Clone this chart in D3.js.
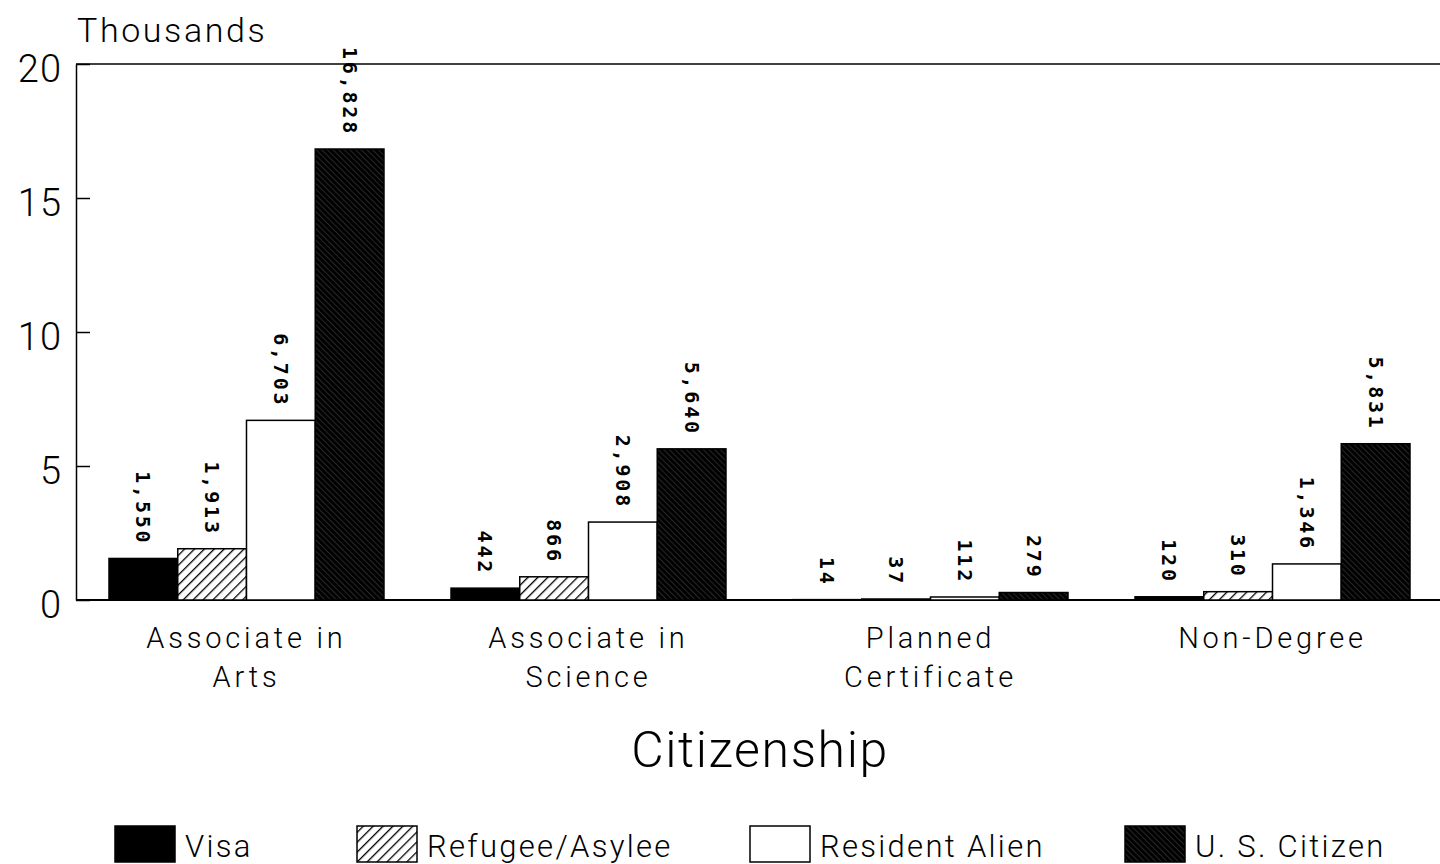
<!DOCTYPE html>
<html>
<head>
<meta charset="utf-8">
<script src="https://cdn.jsdelivr.net/npm/d3@7"></script>
<style>
  body { margin:0; background:#fff; }
  svg { display:block; }
  text { font-family: Roboto, "Liberation Sans", Arial, sans-serif; font-weight:300; fill:#000; }
</style>
</head>
<body>
<svg></svg>
<script>
// data
var categories = ["Associate in Arts","Associate in Science","Planned Certificate","Non-Degree"]
var catLines = [["Associate in","Arts"],["Associate in","Science"],["Planned","Certificate"],["Non-Degree"]]
var seriesNames = ["Visa","Refugee/Asylee","Resident Alien","U. S. Citizen"]
var visa = [1550, 442, 14, 120]
var refugee = [1913, 866, 37, 310]
var resident = [6703, 2908, 112, 1346]
var citizen = [16828, 5640, 279, 5831]
var yTicks = [0,5,10,15,20]

var screen = {width:1440,height:864}
var plot = {left:76,top:64,bottom:600,right:1443}
var legendX = [115,357,750,1125]

var svg = d3.select("svg")
    .attr("width",screen.width)
    .attr("height",screen.height)

// patterns
var defs = svg.append("defs")
var p1 = defs.append("pattern").attr("id","hatch").attr("patternUnits","userSpaceOnUse")
    .attr("width",7).attr("height",7).attr("patternTransform","rotate(45)")
p1.append("rect").attr("width",7).attr("height",7).attr("fill","#fff")
p1.append("line").attr("x1",0).attr("y1",0).attr("x2",0).attr("y2",7)
    .attr("stroke","#000").attr("stroke-width",2.6)

var p2 = defs.append("pattern").attr("id","dense").attr("patternUnits","userSpaceOnUse")
    .attr("width",4).attr("height",4).attr("patternTransform","rotate(-45)")
p2.append("rect").attr("width",4).attr("height",4).attr("fill","#000")
p2.append("line").attr("x1",0).attr("y1",0).attr("x2",0).attr("y2",4)
    .attr("stroke","#fff").attr("stroke-width",0.7).attr("stroke-opacity",0.45)

var fills = ["#000","url(#hatch)","#fff","url(#dense)"]

var table = categories.map(function(c,i){
    return {cat:c, values:[visa[i],refugee[i],resident[i],citizen[i]]}
})

var xScale = d3.scaleBand()
    .domain(categories)
    .range([plot.left,plot.right])
    .paddingInner(0.196)
    .paddingOuter(0.0965)
var xInner = d3.scaleBand()
    .domain(seriesNames)
    .range([0,xScale.bandwidth()])
var yScale = d3.scaleLinear()
    .domain([0,20])
    .range([plot.bottom,plot.top])

// frame lines
svg.append("line").attr("x1",plot.left).attr("x2",screen.width)
    .attr("y1",plot.top).attr("y2",plot.top).attr("stroke","#000").attr("stroke-width",1.5)
svg.append("line").attr("x1",plot.left).attr("x2",screen.width)
    .attr("y1",plot.bottom).attr("y2",plot.bottom).attr("stroke","#000").attr("stroke-width",2)

var yAxis = d3.axisLeft(yScale)
    .tickValues(yTicks)
    .tickFormat(d3.format("d"))
    .tickSizeInner(-14)
    .tickSizeOuter(0)
    .tickPadding(14)

var ya = svg.append("g")
    .attr("transform","translate("+plot.left+",0)")
    .call(yAxis)
ya.select(".domain").attr("stroke-width",1.5)
ya.selectAll(".tick line").attr("stroke-width",1.5)
ya.selectAll(".tick text")
    .attr("font-family","Roboto, sans-serif")
    .attr("font-size",38)
    .attr("letter-spacing",1)
    .attr("dy","0.45em")
    .style("font-weight",300)

svg.append("text").attr("x",77).attr("y",42)
    .attr("font-size",34).attr("letter-spacing",2.6)
    .text("Thousands")

var groups = svg.selectAll(".grp")
    .data(table)
    .enter()
    .append("g")
    .attr("class","grp")
    .attr("transform",function(d){ return "translate("+xScale(d.cat)+",0)"})

groups.selectAll("rect")
    .data(function(d){ return d.values })
    .enter()
    .append("rect")
    .attr("x",function(v,i){ return xInner(seriesNames[i])})
    .attr("width",xInner.bandwidth())
    .attr("y",function(v){ return yScale(v/1000)})
    .attr("height",function(v){ return plot.bottom - yScale(v/1000)})
    .attr("fill",function(v,i){ return fills[i]})
    .attr("stroke","#000")
    .attr("stroke-width",1.5)

groups.selectAll(".val")
    .data(function(d){ return d.values })
    .enter()
    .append("text")
    .attr("class","val")
    .attr("transform",function(v,i){
        var x = xInner(seriesNames[i]) + xInner.bandwidth()/2
        var y = yScale(v/1000) - 13
        return "translate("+x+","+y+") rotate(90)"
    })
    .attr("text-anchor","end")
    .attr("dy","0.35em")
    .style("font-family","DejaVu Sans Mono")
    .style("font-weight","bold")
    .attr("font-size",20)
    .attr("letter-spacing",2.8)
    .text(function(v){ return d3.format(",")(v)})

// category labels
svg.selectAll(".cat")
    .data(table)
    .enter()
    .append("text")
    .attr("class","cat")
    .attr("text-anchor","middle")
    .attr("font-size",29)
    .attr("letter-spacing",3.8)
    .attr("x",function(d){ return xScale(d.cat)+xScale.bandwidth()/2 })
    .attr("y",648)
    .each(function(d,i){
        var t = d3.select(this)
        catLines[i].forEach(function(s,k){
            t.append("tspan")
             .attr("x",xScale(d.cat)+xScale.bandwidth()/2)
             .attr("dy",k==0?0:39)
             .text(s)
        })
    })

svg.append("text").attr("x",760).attr("y",767)
    .attr("text-anchor","middle")
    .attr("font-size",50).attr("letter-spacing",1.6)
    .text("Citizenship")

// legend
var leg = svg.selectAll(".leg")
    .data(seriesNames)
    .enter()
    .append("g")
    .attr("class","leg")
    .attr("transform",function(d,i){ return "translate("+legendX[i]+",0)"})
leg.append("rect")
    .attr("x",0).attr("y",826).attr("width",60).attr("height",36)
    .attr("fill",function(d,i){ return fills[i]})
    .attr("stroke","#000").attr("stroke-width",1.5)
leg.append("text")
    .attr("x",70).attr("y",857)
    .attr("font-size",31).attr("letter-spacing",2.3)
    .text(function(d){ return d })
</script>
</body>
</html>
